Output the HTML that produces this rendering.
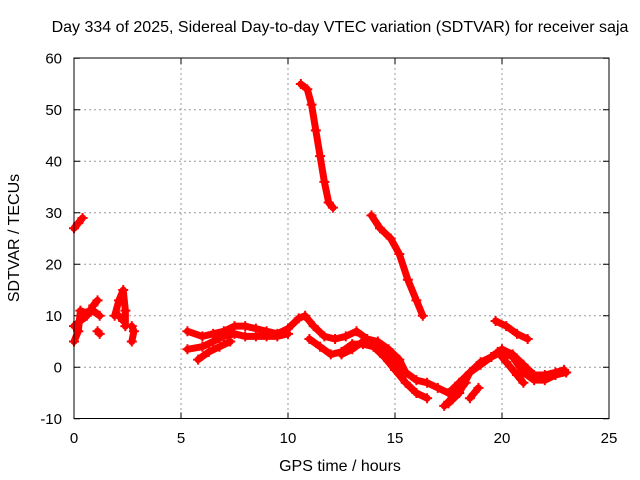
<!DOCTYPE html>
<html><head><meta charset="utf-8"><style>
body{margin:0;background:#fff;}
svg{display:block;font-family:"Liberation Sans",sans-serif;}
</style></head><body>
<svg id="chart" width="640" height="480">
<text x="340" y="32" font-size="16" text-anchor="middle">Day 334 of 2025, Sidereal Day-to-day VTEC variation (SDTVAR) for receiver saja</text>
<text x="340" y="471" font-size="16" text-anchor="middle">GPS time / hours</text>
<text transform="translate(19,238) rotate(-90)" font-size="16" text-anchor="middle">SDTVAR / TECUs</text>
<g id="grid"></g><g id="data"></g>
<rect x="74" y="58" width="535" height="360.5" fill="none" stroke="#000" stroke-width="1"/>
</svg>
<script>
const xTicks=[0,5,10,15,20,25];
const yTicks=[-10,0,10,20,30,40,50,60];
const trackA=[[10.6,55],[10.9,54],[11.1,51],[11.3,46],[11.5,41],[11.7,36],[11.9,32],[12.1,31]];
const trackB=[[13.9,29.5],[14.3,27],[14.8,25],[15.2,22],[15.6,17],[16.0,13],[16.3,10]];
const trackC=[[0,27],[0.2,28],[0.4,29]];
const trackD=[[19.7,9],[20.2,8],[20.7,6.5],[21.2,5.5]];
const early1=[[0,5],[0.2,7],[0.3,11],[0.6,10.5],[0.9,11],[1.2,10]];
const early2=[[0,8],[0.3,9],[0.6,10],[0.9,12],[1.1,13]];
const early3=[[1.1,7],[1.2,6.5]];
const early4=[[1.9,10],[2.1,13],[2.3,15],[2.4,11],[2.4,8]];
const early5=[[2.1,10],[2.3,9]];
const early6=[[2.7,8],[2.8,7],[2.7,5]];
const band1=[[5.3,7],[6,6],[6.5,6.5],[7,7],[7.5,8],[8,8],[8.5,7.5],[9,7],[9.5,6.5],[10,7.5],[10.5,9.5],[10.8,10],[11.2,8],[11.7,6],[12.2,5.5],[12.7,6],[13.2,7],[13.7,5.5],[14.2,5],[14.7,3.5],[15.2,1.5],[15.5,-1],[16,-2.5],[16.5,-3],[17,-4],[17.5,-5],[18,-3],[18.5,-1],[19,1],[19.5,2],[20,3.5],[20.5,2.5],[21,0.5],[21.5,-1.5],[22,-1.5],[22.5,-1],[22.9,-0.5]];
const band2=[[5.3,3.5],[6,4],[6.5,5],[7,6],[7.5,6.5],[8,6],[8.5,6],[9,6],[9.5,6],[10,6.5]];
const band3=[[5.8,1.5],[6.3,3],[6.8,4],[7.3,5]];
const band4=[[11,5.5],[11.5,4],[12,2.5],[12.5,3],[13,4.5],[13.5,4.5],[14,4],[14.5,2],[15,-0.5],[15.5,-3],[16,-5],[16.5,-6]];
const band5=[[12.5,2.5],[13,3.5],[13.5,5],[14,4.5],[14.5,3.5],[15,1],[15.3,-1]];
const band6=[[17.5,-7],[18,-5],[18.5,-1],[19,0.5],[19.5,2],[20,3],[20.5,2],[21,-1],[21.5,-2.5],[22,-2.5],[22.5,-1.5],[23,-1]];
const band7=[[17.3,-7.5],[17.9,-5],[18.3,-3]];
const band8=[[18.5,-6],[18.9,-4]];
const band9=[[19.8,3],[20.2,1],[20.7,-1.5],[21,-3]];
const series=[trackA,trackB,trackC,trackD,early1,early2,early3,early4,early5,early6,band1,band2,band3,band4,band5,band6,band7,band8,band9];

const X=t=>74+t*21.4;
const Y=v=>367.3-v*5.15;
const NS='http://www.w3.org/2000/svg';
const grid=document.getElementById('grid');
xTicks.forEach(t=>{
 if(t>0&&t<25){const l=document.createElementNS(NS,'line');
 
 
 l.setAttribute('x1',X(t));l.setAttribute('x2',X(t));l.setAttribute('y1',58);l.setAttribute('y2',418.5);
 l.setAttribute('stroke','#999');l.setAttribute('stroke-dasharray','2,3');grid.appendChild(l);}
 const k=document.createElementNS(NS,'path');
 
 
 k.setAttribute('d',`M${X(t)} 418.5v-6M${X(t)} 58v6`);k.setAttribute('stroke','#000');grid.appendChild(k);
 const tx=document.createElementNS(NS,'text');
 
 
 tx.setAttribute('x',X(t));tx.setAttribute('y',443);tx.setAttribute('font-size','15');tx.setAttribute('text-anchor','middle');
 tx.textContent=t;grid.appendChild(tx);
});
yTicks.forEach(v=>{
 if(v>-10&&v<60){const l=document.createElementNS(NS,'line');
 
 
 l.setAttribute('x1',74);l.setAttribute('x2',609);l.setAttribute('y1',Y(v));l.setAttribute('y2',Y(v));
 l.setAttribute('stroke','#999');l.setAttribute('stroke-dasharray','2,3');grid.appendChild(l);}
 const k=document.createElementNS(NS,'path');
 
 
 k.setAttribute('d',`M74 ${Y(v)}h6M609 ${Y(v)}h-6`);k.setAttribute('stroke','#000');grid.appendChild(k);
 const tx=document.createElementNS(NS,'text');
 
 
 tx.setAttribute('x',62);tx.setAttribute('y',Y(v)+5);tx.setAttribute('font-size','15');tx.setAttribute('text-anchor','end');
 tx.textContent=v;grid.appendChild(tx);
});
const data=document.getElementById('data');
series.forEach(s=>{
 const p=document.createElementNS(NS,'polyline');
 
 
 p.setAttribute('points',s.map(d=>X(d[0])+','+Y(d[1])).join(' '));
 p.setAttribute('fill','none');p.setAttribute('stroke','#f00');p.setAttribute('stroke-width','7');
 p.setAttribute('stroke-linejoin','round');p.setAttribute('stroke-linecap','round');
 data.appendChild(p);
 s.forEach(d=>{
  const m=document.createElementNS(NS,'path');
  
  
  m.setAttribute('d',`M${X(d[0])-5} ${Y(d[1])}h10M${X(d[0])} ${Y(d[1])-5}v10`);
  m.setAttribute('stroke','#f00');m.setAttribute('stroke-width','2');
  data.appendChild(m);
 });
});
</script>
</body></html>
